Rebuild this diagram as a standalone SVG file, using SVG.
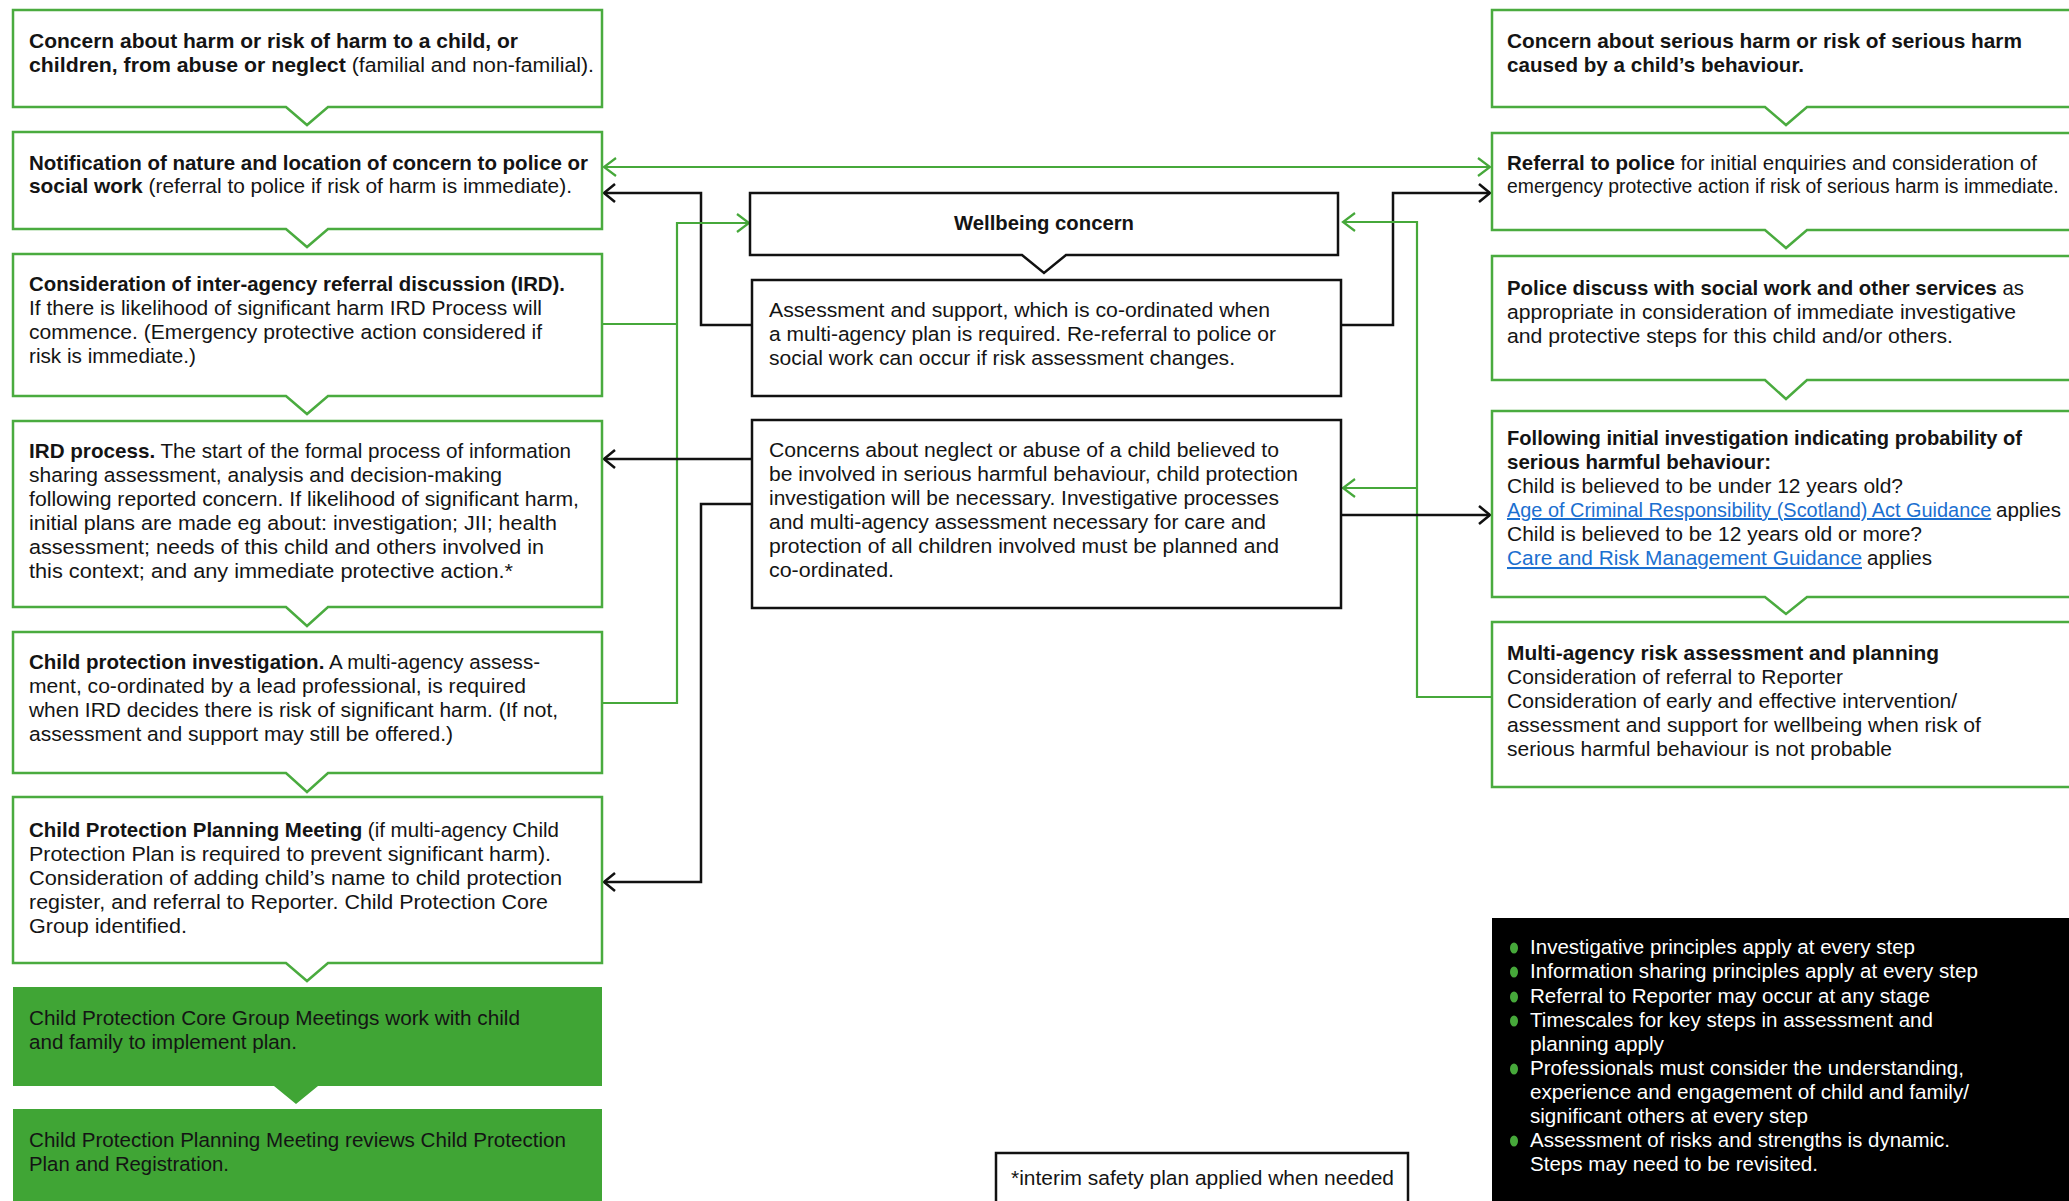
<svg xmlns="http://www.w3.org/2000/svg" width="2069" height="1201" viewBox="0 0 2069 1201">
<style>
.t{font-family:"Liberation Sans",Arial,sans-serif;font-size:20.5px;fill:#141414}
.b{font-weight:bold}
.w{fill:#ffffff}
.lk{fill:#1b6fd0;text-decoration:underline}
.gb{fill:#ffffff;stroke:#4aab3f;stroke-width:2.5}
.kb{fill:#ffffff;stroke:#111;stroke-width:2.5}
.gf{fill:#40a535;stroke:none}
.cg{fill:none;stroke:#46a83a;stroke-width:2.2}
.ck{fill:none;stroke:#111;stroke-width:2.5}
</style>
<defs>
<marker id="ag" markerUnits="userSpaceOnUse" markerWidth="24" markerHeight="26" viewBox="-16 -13 20 26" refX="0" refY="0" orient="auto-start-reverse"><path d="M-12,-9 L0,0 L-12,9" fill="none" stroke="#46a83a" stroke-width="2.2"/></marker>
<marker id="ak" markerUnits="userSpaceOnUse" markerWidth="24" markerHeight="26" viewBox="-16 -13 20 26" refX="0" refY="0" orient="auto-start-reverse"><path d="M-11,-9 L0,0 L-11,9" fill="none" stroke="#111" stroke-width="2.5"/></marker>
</defs>
<rect width="2069" height="1201" fill="#ffffff"/>

<g id="connectors">
<path class="cg" d="M604,167 H1490" marker-start="url(#ag)" marker-end="url(#ag)"/>
<path class="ck" d="M752,325 H701 V193 H604" marker-end="url(#ak)"/>
<path class="ck" d="M1341,325 H1393 V193 H1490" marker-end="url(#ak)"/>
<path class="cg" d="M602,703 H677 V223 H749" marker-end="url(#ag)"/>
<path class="cg" d="M602,324 H677"/>
<path class="ck" d="M752,459 H604" marker-end="url(#ak)"/>
<path class="ck" d="M752,504 H701 V882 H604" marker-end="url(#ak)"/>
<path class="cg" d="M1492,697 H1417 V222 H1343" marker-end="url(#ag)"/>
<path class="cg" d="M1417,488 H1343" marker-end="url(#ag)"/>
<path class="ck" d="M1341,515 H1490" marker-end="url(#ak)"/>
</g>

<g id="L1">
<path class="gb" d="M13,10 H602 V107 H328 L307,125 L286,107 H13 Z"/>
<text class="t b" x="29" y="48" textLength="489" lengthAdjust="spacingAndGlyphs">Concern about harm or risk of harm to a child, or</text>
<text class="t" x="29" y="72" textLength="565" lengthAdjust="spacingAndGlyphs"><tspan class="b">children, from abuse or neglect</tspan> (familial and non-familial).</text>
</g>
<g id="L2">
<path class="gb" d="M13,132 H602 V229 H328 L307,247 L286,229 H13 Z"/>
<text class="t b" x="29" y="170" textLength="559" lengthAdjust="spacingAndGlyphs">Notification of nature and location of concern to police or</text>
<text class="t" x="29" y="193" textLength="543" lengthAdjust="spacingAndGlyphs"><tspan class="b">social work</tspan> (referral to police if risk of harm is immediate).</text>
</g>
<g id="L3">
<path class="gb" d="M13,254 H602 V396 H328 L307,414 L286,396 H13 Z"/>
<text class="t b" x="29" y="291" textLength="536" lengthAdjust="spacingAndGlyphs">Consideration of inter-agency referral discussion (IRD).</text>
<text class="t" x="29" y="315" textLength="513" lengthAdjust="spacingAndGlyphs">If there is likelihood of significant harm IRD Process will</text>
<text class="t" x="29" y="339" textLength="513" lengthAdjust="spacingAndGlyphs">commence. (Emergency protective action considered if</text>
<text class="t" x="29" y="363" textLength="167" lengthAdjust="spacingAndGlyphs">risk is immediate.)</text>
</g>
<g id="L4">
<path class="gb" d="M13,421 H602 V607 H328 L307,626 L286,607 H13 Z"/>
<text class="t" x="29" y="458" textLength="542" lengthAdjust="spacingAndGlyphs"><tspan class="b">IRD process.</tspan> The start of the formal process of information</text>
<text class="t" x="29" y="482" textLength="473" lengthAdjust="spacingAndGlyphs">sharing assessment, analysis and decision-making</text>
<text class="t" x="29" y="506" textLength="550" lengthAdjust="spacingAndGlyphs">following reported concern. If likelihood of significant harm,</text>
<text class="t" x="29" y="530" textLength="528" lengthAdjust="spacingAndGlyphs">initial plans are made eg about: investigation; JII; health</text>
<text class="t" x="29" y="554" textLength="515" lengthAdjust="spacingAndGlyphs">assessment; needs of this child and others involved in</text>
<text class="t" x="29" y="578" textLength="484" lengthAdjust="spacingAndGlyphs">this context; and any immediate protective action.*</text>
</g>
<g id="L5">
<path class="gb" d="M13,632 H602 V773 H328 L307,792 L286,773 H13 Z"/>
<text class="t" x="29" y="669" textLength="511" lengthAdjust="spacingAndGlyphs"><tspan class="b">Child protection investigation.</tspan> A multi-agency assess-</text>
<text class="t" x="29" y="693" textLength="497" lengthAdjust="spacingAndGlyphs">ment, co-ordinated by a lead professional, is required</text>
<text class="t" x="29" y="717" textLength="529" lengthAdjust="spacingAndGlyphs">when IRD decides there is risk of significant harm. (If not,</text>
<text class="t" x="29" y="741" textLength="424" lengthAdjust="spacingAndGlyphs">assessment and support may still be offered.)</text>
</g>
<g id="L6">
<path class="gb" d="M13,797 H602 V963 H328 L307,981 L286,963 H13 Z"/>
<text class="t" x="29" y="837" textLength="530" lengthAdjust="spacingAndGlyphs"><tspan class="b">Child Protection Planning Meeting</tspan> (if multi-agency Child</text>
<text class="t" x="29" y="861" textLength="522" lengthAdjust="spacingAndGlyphs">Protection Plan is required to prevent significant harm).</text>
<text class="t" x="29" y="885" textLength="533" lengthAdjust="spacingAndGlyphs">Consideration of adding child’s name to child protection</text>
<text class="t" x="29" y="909" textLength="519" lengthAdjust="spacingAndGlyphs">register, and referral to Reporter. Child Protection Core</text>
<text class="t" x="29" y="933" textLength="158" lengthAdjust="spacingAndGlyphs">Group identified.</text>
</g>
<g id="G1">
<path class="gf" d="M13,987 H602 V1086 H318 L296,1104 L274,1086 H13 Z"/>
<text class="t" x="29" y="1025" textLength="491" lengthAdjust="spacingAndGlyphs">Child Protection Core Group Meetings work with child</text>
<text class="t" x="29" y="1049" textLength="268" lengthAdjust="spacingAndGlyphs">and family to implement plan.</text>
</g>
<g id="G2">
<rect class="gf" x="13" y="1109" width="589" height="100"/>
<text class="t" x="29" y="1147" textLength="537" lengthAdjust="spacingAndGlyphs">Child Protection Planning Meeting reviews Child Protection</text>
<text class="t" x="29" y="1171" textLength="200" lengthAdjust="spacingAndGlyphs">Plan and Registration.</text>
</g>

<g id="wellbeing">
<path class="kb" d="M750,193 H1338 V255 H1066 L1044,273 L1022,255 H750 Z"/>
<text class="t b" x="954" y="230" textLength="180" lengthAdjust="spacingAndGlyphs">Wellbeing concern</text>
</g>
<g id="assessment">
<rect class="kb" x="752" y="280" width="589" height="116"/>
<text class="t" x="769" y="317" textLength="501" lengthAdjust="spacingAndGlyphs">Assessment and support, which is co-ordinated when</text>
<text class="t" x="769" y="341" textLength="507" lengthAdjust="spacingAndGlyphs">a multi-agency plan is required. Re-referral to police or</text>
<text class="t" x="769" y="365" textLength="466" lengthAdjust="spacingAndGlyphs">social work can occur if risk assessment changes.</text>
</g>
<g id="concerns">
<rect class="kb" x="752" y="420" width="589" height="188"/>
<text class="t" x="769" y="457" textLength="510" lengthAdjust="spacingAndGlyphs">Concerns about neglect or abuse of a child believed to</text>
<text class="t" x="769" y="481" textLength="529" lengthAdjust="spacingAndGlyphs">be involved in serious harmful behaviour, child protection</text>
<text class="t" x="769" y="505" textLength="510" lengthAdjust="spacingAndGlyphs">investigation will be necessary. Investigative processes</text>
<text class="t" x="769" y="529" textLength="497" lengthAdjust="spacingAndGlyphs">and multi-agency assessment necessary for care and</text>
<text class="t" x="769" y="553" textLength="510" lengthAdjust="spacingAndGlyphs">protection of all children involved must be planned and</text>
<text class="t" x="769" y="577" textLength="125" lengthAdjust="spacingAndGlyphs">co-ordinated.</text>
</g>

<g id="R1">
<path class="gb" d="M1492,10 H2080 V107 H1807 L1786,125 L1765,107 H1492 Z"/>
<text class="t b" x="1507" y="48" textLength="515" lengthAdjust="spacingAndGlyphs">Concern about serious harm or risk of serious harm</text>
<text class="t b" x="1507" y="72" textLength="297" lengthAdjust="spacingAndGlyphs">caused by a child’s behaviour.</text>
</g>
<g id="R2">
<path class="gb" d="M1492,133 H2080 V230 H1807 L1786,248 L1765,230 H1492 Z"/>
<text class="t" x="1507" y="170" textLength="530" lengthAdjust="spacingAndGlyphs"><tspan class="b">Referral to police</tspan> for initial enquiries and consideration of</text>
<text class="t" x="1507" y="193" style="font-size:19.4px">emergency protective action if risk of serious harm is immediate.</text>
</g>
<g id="R3">
<path class="gb" d="M1492,256 H2080 V380 H1807 L1786,399 L1765,380 H1492 Z"/>
<text class="t" x="1507" y="295" textLength="517" lengthAdjust="spacingAndGlyphs"><tspan class="b">Police discuss with social work and other services</tspan> as</text>
<text class="t" x="1507" y="319" textLength="509" lengthAdjust="spacingAndGlyphs">appropriate in consideration of immediate investigative</text>
<text class="t" x="1507" y="343" textLength="446" lengthAdjust="spacingAndGlyphs">and protective steps for this child and/or others.</text>
</g>
<g id="R4">
<path class="gb" d="M1492,411 H2080 V597 H1807 L1786,614 L1765,597 H1492 Z"/>
<text class="t b" x="1507" y="445" textLength="515" lengthAdjust="spacingAndGlyphs">Following initial investigation indicating probability of</text>
<text class="t b" x="1507" y="469" textLength="264" lengthAdjust="spacingAndGlyphs">serious harmful behaviour:</text>
<text class="t" x="1507" y="493" textLength="396" lengthAdjust="spacingAndGlyphs">Child is believed to be under 12 years old?</text>
<text class="t lk" x="1507" y="517" style="font-size:19.9px">Age of Criminal Responsibility (Scotland) Act Guidance</text>
<text class="t" x="1996" y="517">applies</text>
<text class="t" x="1507" y="541" textLength="415" lengthAdjust="spacingAndGlyphs">Child is believed to be 12 years old or more?</text>
<text class="t lk" x="1507" y="565" textLength="355" lengthAdjust="spacingAndGlyphs">Care and Risk Management Guidance</text>
<text class="t" x="1867" y="565">applies</text>
</g>
<g id="R5">
<rect class="gb" x="1492" y="622" width="590" height="165"/>
<text class="t b" x="1507" y="660" textLength="432" lengthAdjust="spacingAndGlyphs">Multi-agency risk assessment and planning</text>
<text class="t" x="1507" y="684" textLength="336" lengthAdjust="spacingAndGlyphs">Consideration of referral to Reporter</text>
<text class="t" x="1507" y="708" textLength="450" lengthAdjust="spacingAndGlyphs">Consideration of early and effective intervention/</text>
<text class="t" x="1507" y="732" textLength="474" lengthAdjust="spacingAndGlyphs">assessment and support for wellbeing when risk of</text>
<text class="t" x="1507" y="756" textLength="385" lengthAdjust="spacingAndGlyphs">serious harmful behaviour is not probable</text>
</g>

<g id="footnote">
<rect class="kb" x="996" y="1153" width="412" height="60"/>
<text class="t" x="1011" y="1185" textLength="383" lengthAdjust="spacingAndGlyphs">*interim safety plan applied when needed</text>
</g>

<g id="principles">
<rect x="1492" y="918" width="580" height="290" fill="#000"/>
<g fill="#46a83a">
<ellipse cx="1514" cy="948" rx="4" ry="5.5"/>
<ellipse cx="1514" cy="972" rx="4" ry="5.5"/>
<ellipse cx="1514" cy="997" rx="4" ry="5.5"/>
<ellipse cx="1514" cy="1021" rx="4" ry="5.5"/>
<ellipse cx="1514" cy="1069" rx="4" ry="5.5"/>
<ellipse cx="1514" cy="1141" rx="4" ry="5.5"/>
</g>
<text class="t w" x="1530" y="954" textLength="385" lengthAdjust="spacingAndGlyphs">Investigative principles apply at every step</text>
<text class="t w" x="1530" y="978" textLength="448" lengthAdjust="spacingAndGlyphs">Information sharing principles apply at every step</text>
<text class="t w" x="1530" y="1003" textLength="400" lengthAdjust="spacingAndGlyphs">Referral to Reporter may occur at any stage</text>
<text class="t w" x="1530" y="1027" textLength="403" lengthAdjust="spacingAndGlyphs">Timescales for key steps in assessment and</text>
<text class="t w" x="1530" y="1051" textLength="134" lengthAdjust="spacingAndGlyphs">planning apply</text>
<text class="t w" x="1530" y="1075" textLength="434" lengthAdjust="spacingAndGlyphs">Professionals must consider the understanding,</text>
<text class="t w" x="1530" y="1099" textLength="439" lengthAdjust="spacingAndGlyphs">experience and engagement of child and family/</text>
<text class="t w" x="1530" y="1123" textLength="278" lengthAdjust="spacingAndGlyphs">significant others at every step</text>
<text class="t w" x="1530" y="1147" textLength="420" lengthAdjust="spacingAndGlyphs">Assessment of risks and strengths is dynamic.</text>
<text class="t w" x="1530" y="1171" textLength="288" lengthAdjust="spacingAndGlyphs">Steps may need to be revisited.</text>
</g>
</svg>
